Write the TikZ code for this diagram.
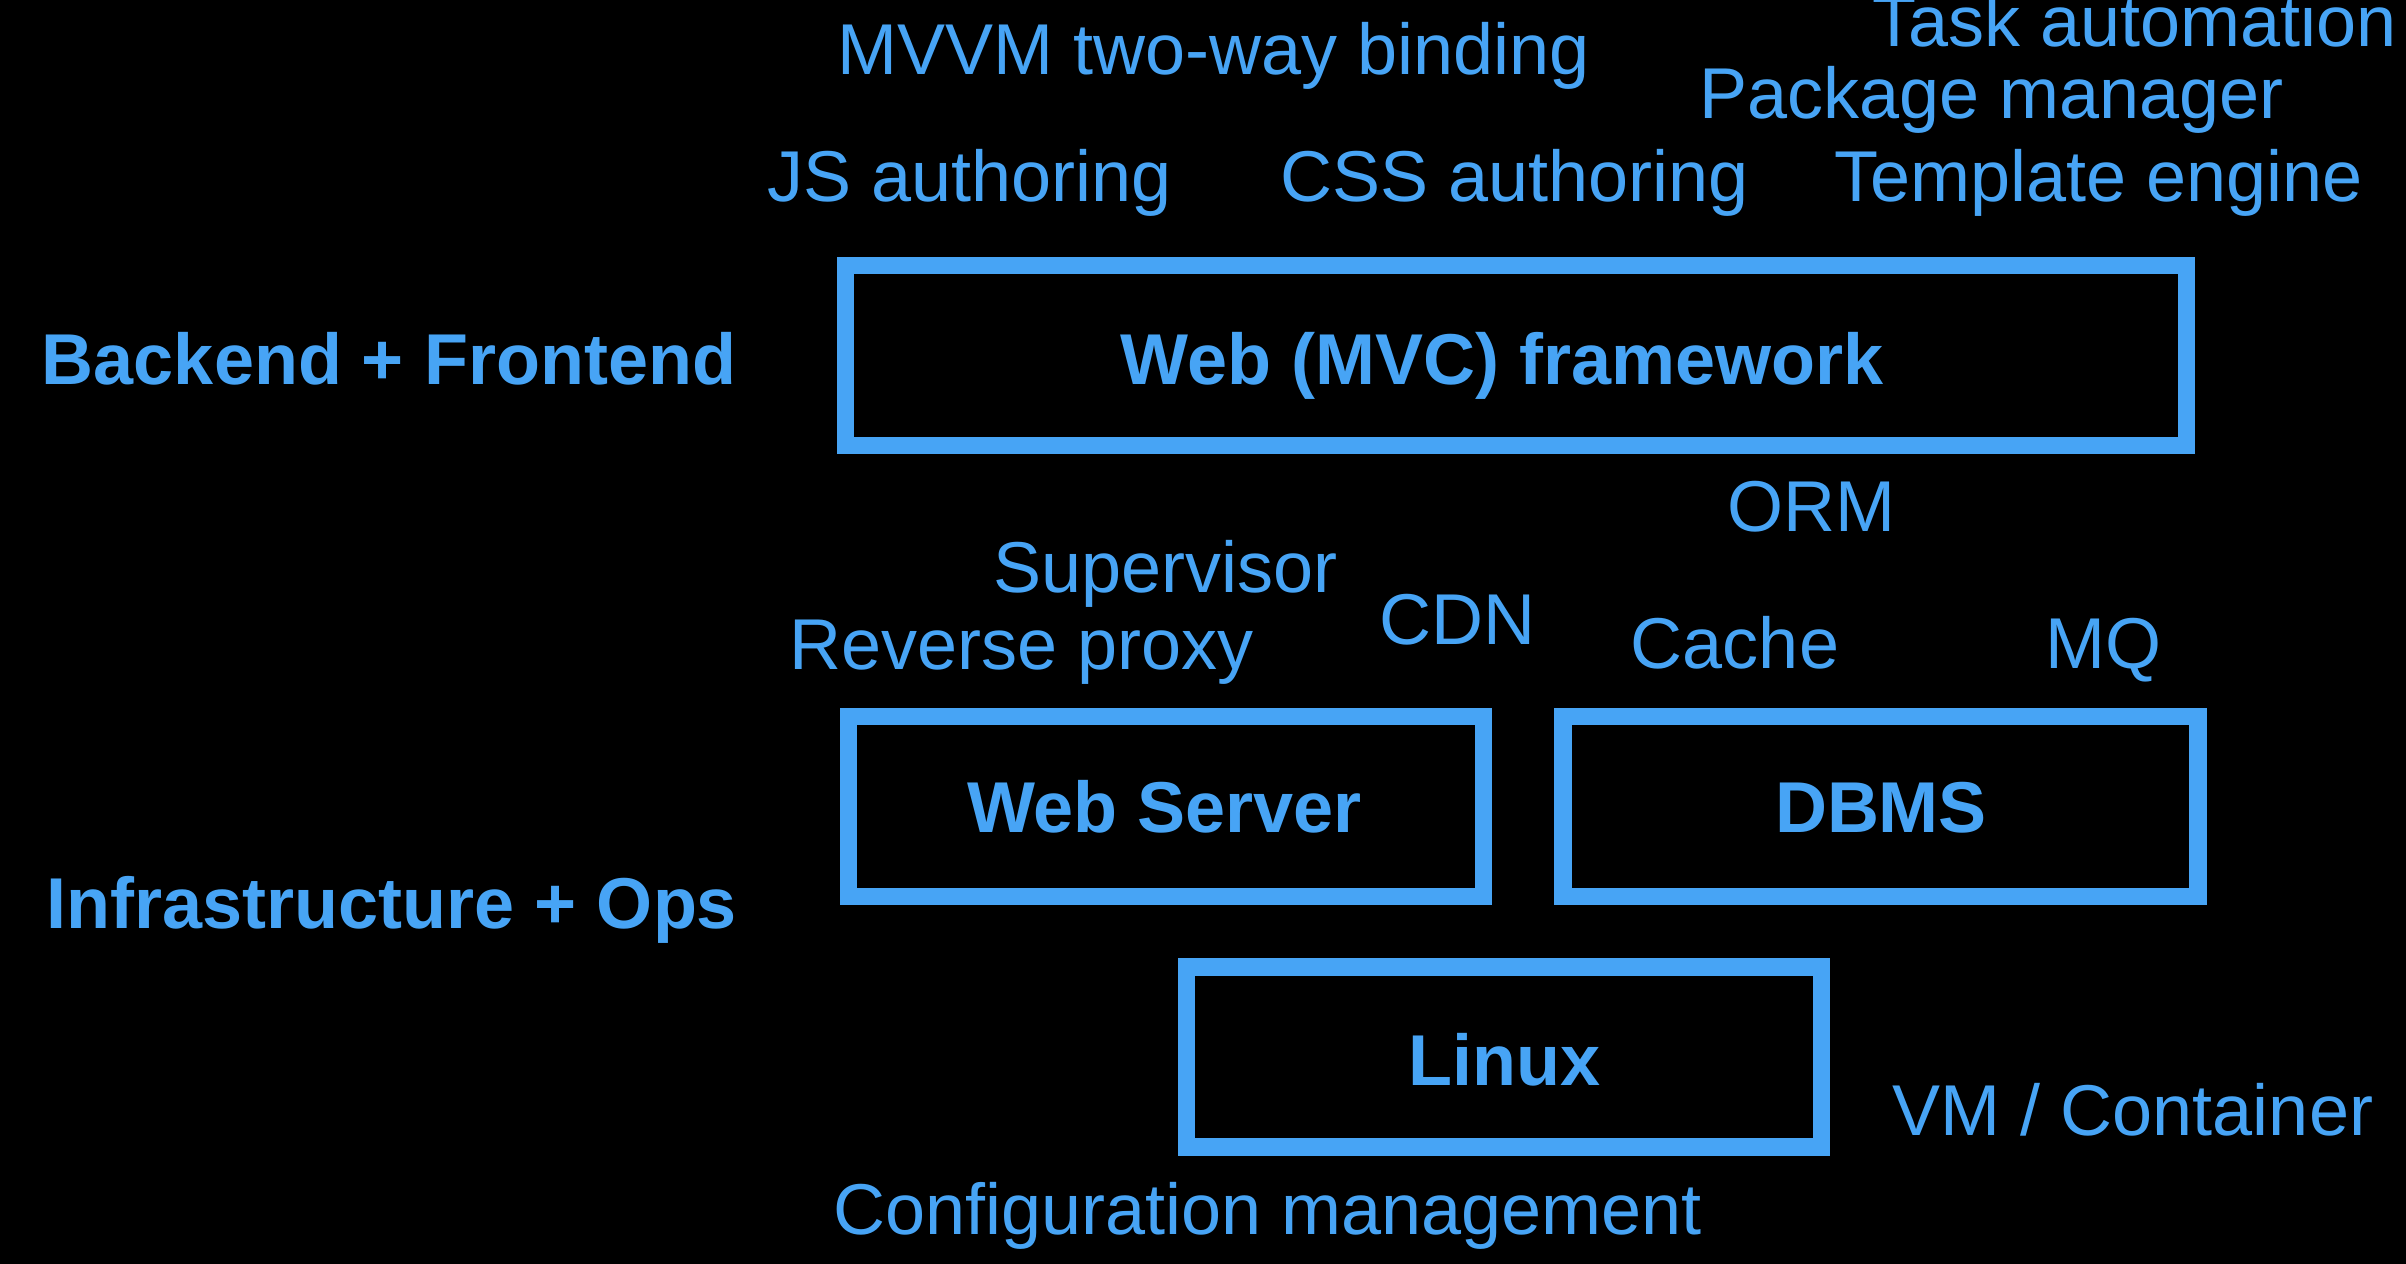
\documentclass[tikz,border=0pt]{standalone}
\usepackage{fontspec}
\setmainfont{Liberation Sans}
\definecolor{sky}{RGB}{71,164,245}
\begin{document}
\begin{tikzpicture}[x=0.5pt,y=-0.5pt,
  every node/.style={inner sep=0pt, outer sep=0pt},
  lbl/.style={anchor=base, text=sky, font=\fontsize{36}{43}\selectfont},
  boldlbl/.style={anchor=base, text=sky, font=\fontsize{36}{43}\selectfont\bfseries},
  layerbox/.style={draw=sky, line width=8.75pt, rectangle, minimum height=90pt, minimum width=317.5pt}]
\fill[black] (0,0) rectangle (2406,1264);
\useasboundingbox (0,0) rectangle (2406,1264);
% boxes
\node[layerbox, minimum width=670.5pt] (web) at (1515.75,355.4) {};
\node[layerbox] (websrv) at (1165.75,806.25) {};
\node[layerbox] (dbms) at (1880.5,806.25) {};
\node[layerbox] (linux) at (1503.75,1057) {};
% box labels
\node[boldlbl] (webt) at (1502,384) {Web (MVC) framework};
\node[boldlbl] (websrvt) at (1164.5,832) {Web Server};
\node[boldlbl] (dbmst) at (1881,832) {DBMS};
\node[boldlbl] (linuxt) at (1504.5,1085) {Linux};
% side labels
\node[boldlbl] (be) at (389,384) {Backend + Frontend};
\node[boldlbl] (infra) at (392,928) {Infrastructure + Ops};
% top labels
\node[lbl] (mvvm) at (1214,74) {MVVM two-way binding};
\node[lbl] (task) at (2134.5,46.7) {Task automation};
\node[lbl] (pkg) at (1991.5,118.3) {Package manager};
\node[lbl] (js) at (970,201.7) {JS authoring};
\node[lbl] (css) at (1514.6,201.7) {CSS authoring};
\node[lbl] (tpl) at (2099,201.7) {Template engine};
% middle labels
\node[lbl] (orm) at (1811,531.3) {ORM};
\node[lbl] (sup) at (1165.5,592.3) {Supervisor};
\node[lbl] (rp) at (1022,669) {Reverse proxy};
\node[lbl] (cdn) at (1457.7,644.3) {CDN};
\node[lbl] (cache) at (1735,668.7) {Cache};
\node[lbl] (mq) at (2103,668.7) {MQ};
% bottom labels
\node[lbl] (vm) at (2133,1135.3) {VM / Container};
\node[lbl] (cfg) at (1267.5,1234.3) {Configuration management};
\end{tikzpicture}
\end{document}
